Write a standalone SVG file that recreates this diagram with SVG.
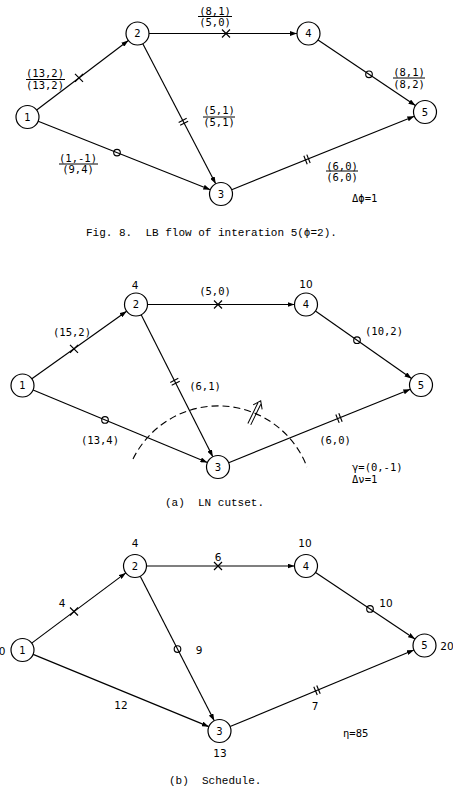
<svg xmlns="http://www.w3.org/2000/svg" xmlns:xlink="http://www.w3.org/1999/xlink" width="453" height="808" viewBox="0 0 453 808">
<style>
.n circle{fill:#fff;stroke:#000;stroke-width:1.2}
.n text{font-family:"DejaVu Sans",sans-serif;font-size:10px;text-anchor:middle}
.e line{stroke:#000;stroke-width:1.15;marker-end:url(#ah)}
.mk{stroke:#000;stroke-width:1.15;fill:none}
.lbl{font-family:"DejaVu Sans Mono",monospace;font-size:10.5px;text-anchor:middle}
.num{font-family:"DejaVu Sans",sans-serif;font-size:10.5px;text-anchor:middle}
.st{font-family:"DejaVu Sans Mono",monospace;font-size:10.5px}
.bar{stroke:#000;stroke-width:1}
.cap{font-family:"Liberation Mono",monospace;font-size:11px;white-space:pre}
</style>
<defs>
<marker id="ah" markerWidth="7" markerHeight="5" refX="7" refY="2.5" orient="auto" markerUnits="userSpaceOnUse"><path d="M0,0 L7,2.5 L0,5 z" fill="#000"/></marker>
<path id="x" d="M-4,-4 L4,4 M-4,4 L4,-4"/>
<circle id="o" r="3.3"/>
<path id="tt" d="M-1.6,-4.5 L-1.6,4.5 M1.6,-4.5 L1.6,4.5"/>
</defs>

<!-- ===== Fig. 8 ===== -->
<g id="fig8">
<g id="f8-connectors" class="e">
<line x1="36.66" y1="110.05" x2="128.34" y2="40.45"/>
<line x1="38.18" y1="121.25" x2="210.32" y2="189.75"/>
<line x1="142.81" y1="43.7" x2="215.69" y2="183.8"/>
<line x1="149" y1="33.5" x2="297" y2="33.5"/>
<line x1="318.04" y1="39.93" x2="415.46" y2="105.57"/>
<line x1="231.67" y1="189.71" x2="414.33" y2="116.29"/>
</g>
<g id="f8-marks" class="mk">
<use xlink:href="#x" href="#x" x="79" y="77.9"/>
<use xlink:href="#o" href="#o" x="117" y="152.6"/>
<use xlink:href="#tt" href="#tt" transform="translate(183.4,121.8) rotate(62.5)"/>
<use xlink:href="#x" href="#x" x="226" y="33.5"/>
<use xlink:href="#o" href="#o" x="369" y="74.3"/>
<use xlink:href="#tt" href="#tt" transform="translate(307,159.4) rotate(-21.9)"/>
</g>
<g id="f8-n1" class="n"><circle cx="27.5" cy="117" r="11.5"/><text x="27.5" y="120.5">1</text></g>
<g id="f8-n2" class="n"><circle cx="137.5" cy="33.5" r="11.5"/><text x="137.5" y="37">2</text></g>
<g id="f8-n3" class="n"><circle cx="221" cy="194" r="11.5"/><text x="221" y="197.5">3</text></g>
<g id="f8-n4" class="n"><circle cx="308.5" cy="33.5" r="11.5"/><text x="308.5" y="37">4</text></g>
<g id="f8-n5" class="n"><circle cx="425" cy="112" r="11.5"/><text x="425" y="115.5">5</text></g>
<g id="f8-labels">
<text class="lbl" x="45" y="77">(13,2)</text><line class="bar" x1="26" y1="79.5" x2="65" y2="79.5"/><text class="lbl" x="45" y="88.5">(13,2)</text>
<text class="lbl" x="215" y="14.5">(8,1)</text><line class="bar" x1="198" y1="16.5" x2="232" y2="16.5"/><text class="lbl" x="215" y="25.5">(5,0)</text>
<text class="lbl" x="219" y="114">(5,1)</text><line class="bar" x1="203" y1="117" x2="235" y2="117"/><text class="lbl" x="219" y="126">(5,1)</text>
<text class="lbl" x="78" y="162">(1,-1)</text><line class="bar" x1="59" y1="164" x2="98" y2="164"/><text class="lbl" x="78" y="173">(9,4)</text>
<text class="lbl" x="409" y="76">(8,1)</text><line class="bar" x1="393" y1="78" x2="425" y2="78"/><text class="lbl" x="409" y="87.5">(8,2)</text>
<text class="lbl" x="342" y="169.5">(6,0)</text><line class="bar" x1="326" y1="171" x2="358" y2="171"/><text class="lbl" x="342" y="181">(6,0)</text>
<text class="st" x="352" y="201.5">Δϕ=1</text>
</g>
<text class="cap" x="86" y="236" xml:space="preserve">Fig. 8.  LB flow of interation 5(ϕ=2).</text>
</g>

<!-- ===== (a) LN cutset ===== -->
<g id="figa">
<g id="a-connectors" class="e">
<line x1="31.86" y1="378.82" x2="126.64" y2="311.18"/>
<line x1="33.11" y1="389.93" x2="207.39" y2="462.57"/>
<line x1="141.18" y1="314.77" x2="212.82" y2="456.73"/>
<line x1="147.5" y1="304.5" x2="294.5" y2="304.5"/>
<line x1="315.42" y1="311.09" x2="411.58" y2="378.41"/>
<line x1="228.66" y1="462.69" x2="410.34" y2="389.31"/>
</g>
<g id="a-marks" class="mk">
<use xlink:href="#x" href="#x" x="74" y="348.8"/>
<use xlink:href="#x" href="#x" x="218" y="304.5"/>
<use xlink:href="#tt" href="#tt" transform="translate(175,381.8) rotate(63.2)"/>
<use xlink:href="#o" href="#o" x="105" y="419.9"/>
<use xlink:href="#o" href="#o" x="357" y="340.2"/>
<use xlink:href="#tt" href="#tt" transform="translate(339,418.1) rotate(-22)"/>
</g>
<g id="a-cut">
<path d="M133,459 A95,95 0 0 1 307,467" fill="none" stroke="#000" stroke-width="1.1" stroke-dasharray="7 4"/>
<g transform="translate(255,412.5) rotate(-64)" fill="none" stroke="#000" stroke-width="1">
<path d="M-13,-1.6 L10,-1.6 M-13,1.6 L10,1.6"/>
<path d="M6,-5 L13,0 L6,5"/>
</g>
</g>
<g id="a-n1" class="n"><circle cx="22.5" cy="385.5" r="11.5"/><text x="22.5" y="389">1</text></g>
<g id="a-n2" class="n"><circle cx="136" cy="304.5" r="11.5"/><text x="136" y="308">2</text></g>
<g id="a-n3" class="n"><circle cx="218" cy="467" r="11.5"/><text x="218" y="470.5">3</text></g>
<g id="a-n4" class="n"><circle cx="306" cy="304.5" r="11.5"/><text x="306" y="308">4</text></g>
<g id="a-n5" class="n"><circle cx="421" cy="385" r="11.5"/><text x="421" y="388.5">5</text></g>
<g id="a-labels">
<text class="num" x="135" y="289">4</text>
<text class="num" x="306" y="288">10</text>
<text class="lbl" x="72" y="336">(15,2)</text>
<text class="lbl" x="215" y="295">(5,0)</text>
<text class="lbl" x="205" y="390">(6,1)</text>
<text class="lbl" x="100" y="444">(13,4)</text>
<text class="lbl" x="384" y="335">(10,2)</text>
<text class="lbl" x="335" y="444">(6,0)</text>
<text class="st" x="352" y="471">γ=(0,-1)</text>
<text class="st" x="352" y="483">Δν=1</text>
</g>
<text class="cap" x="165" y="505.5" xml:space="preserve">(a)  LN cutset.</text>
</g>

<!-- ===== (b) Schedule ===== -->
<g id="figb">
<g id="b-connectors" class="e">
<line x1="31.71" y1="643.12" x2="125.79" y2="572.88"/>
<line x1="33.14" y1="654.37" x2="208.86" y2="726.63"/>
<line x1="140.24" y1="576.24" x2="214.26" y2="720.77"/>
<line x1="146.5" y1="566" x2="294.5" y2="566"/>
<line x1="315.55" y1="572.41" x2="414.95" y2="639.09"/>
<line x1="230.11" y1="726.57" x2="413.89" y2="649.93"/>
</g>
<g id="b-marks" class="mk">
<use xlink:href="#x" href="#x" x="74" y="611.5"/>
<use xlink:href="#x" href="#x" x="218" y="566"/>
<use xlink:href="#o" href="#o" x="177.5" y="649"/>
<use xlink:href="#o" href="#o" x="370" y="608.9"/>
<use xlink:href="#tt" href="#tt" transform="translate(317,690.3) rotate(-22.6)"/>
</g>
<g id="b-n1" class="n"><circle cx="22.5" cy="650" r="11.5"/><text x="22.5" y="653.5">1</text></g>
<g id="b-n2" class="n"><circle cx="135" cy="566" r="11.5"/><text x="135" y="569.5">2</text></g>
<g id="b-n3" class="n"><circle cx="219.5" cy="731" r="11.5"/><text x="219.5" y="734.5">3</text></g>
<g id="b-n4" class="n"><circle cx="306" cy="566" r="11.5"/><text x="306" y="569.5">4</text></g>
<g id="b-n5" class="n"><circle cx="424.5" cy="645.5" r="11.5"/><text x="424.5" y="649">5</text></g>
<g id="b-labels">
<text class="num" x="135" y="547">4</text>
<text class="num" x="305" y="547">10</text>
<text class="num" x="218" y="561">6</text>
<text class="num" x="62" y="607">4</text>
<text class="num" x="199" y="654">9</text>
<text class="num" x="121" y="709">12</text>
<text class="num" x="386" y="607">10</text>
<text class="num" x="315" y="710">7</text>
<text class="num" x="220" y="757">13</text>
<text class="num" x="2" y="654.5">0</text>
<text class="num" x="447" y="650">20</text>
<text class="st" x="343" y="737">η=85</text>
</g>
<text class="cap" x="169" y="784" xml:space="preserve">(b)  Schedule.</text>
</g>
</svg>
